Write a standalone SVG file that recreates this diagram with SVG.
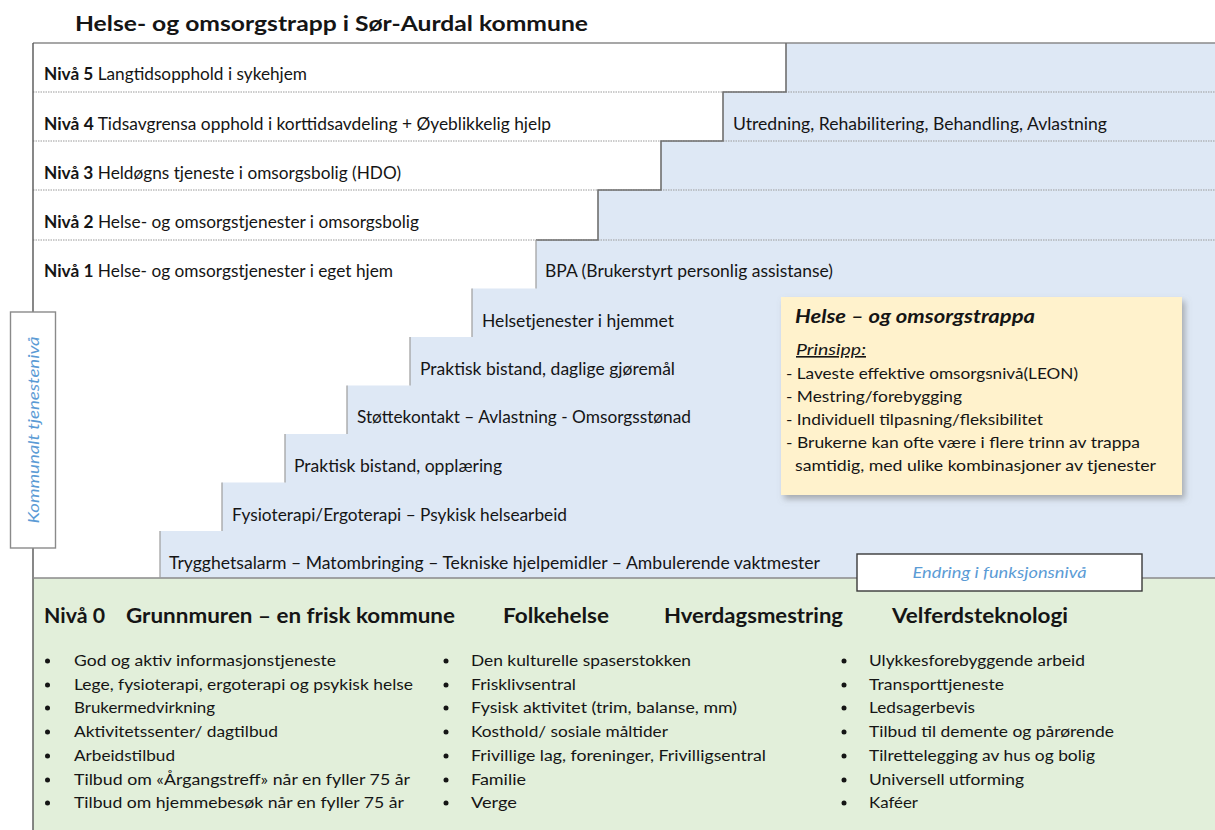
<svg xmlns="http://www.w3.org/2000/svg" width="1215" height="830" viewBox="0 0 1215 830">
<style>
text{font-family:Lato,"Open Sans","Liberation Sans",sans-serif;fill:#151515}
.t{font-size:16.5px}
.b{font-weight:bold}
.h{font-size:20px;font-weight:bold}
.li{font-size:16px}
.blue{fill:#5b9bd5;font-style:italic}
.dot{stroke:#9a9a9a;stroke-width:1;stroke-dasharray:1.5,1}
.edge{fill:none;stroke:#6f6f6f;stroke-width:1.6}
.riser{stroke:#9c9c9c;stroke-width:1.2}
.bul{fill:#151515}
</style>
<defs>
<filter id="sh" x="-5%" y="-5%" width="115%" height="120%">
<feDropShadow dx="3" dy="4" stdDeviation="3" flood-color="#777" flood-opacity="0.55"/>
</filter>
</defs>
<rect width="1215" height="830" fill="#ffffff"/>
<g id="title"><text x="75" y="31" style="font-size:21.5px;font-weight:bold" textLength="513" lengthAdjust="spacingAndGlyphs">Helse- og omsorgstrapp i Sør-Aurdal kommune</text></g>

<g id="backgrounds">
<polygon fill="#dee8f5" points="786,43 1215,43 1215,578 160,578 160,531 222,531 222,482.5 285,482.5 285,434 347,434 347,385.5 410,385.5 410,337 472,337 472,288.5 536,288.5 536,240 598,240 598,190 661,190 661,141 723,141 723,92 786,92"/>
<rect x="33" y="578" width="1182" height="252" fill="#e2efda"/>
</g>

<g id="connectors">
<line class="dot" x1="33" y1="92" x2="1215" y2="92"/>
<line class="dot" x1="33" y1="141" x2="1215" y2="141"/>
<line class="dot" x1="33" y1="190" x2="1215" y2="190"/>
<line class="dot" x1="33" y1="240" x2="1215" y2="240"/>
<line x1="33" y1="43" x2="1215" y2="43" stroke="#8a8a8a" stroke-width="1.6"/>
<line x1="33" y1="43" x2="33" y2="830" stroke="#555" stroke-width="1.4"/>
<line x1="33" y1="578" x2="1215" y2="578" stroke="#8a8a8a" stroke-width="1.6"/>
<path class="edge" d="M786,43 V92 H723 V141 H661 V190 H598 V240 H536"/>
<line class="riser" x1="536" y1="240" x2="536" y2="288.5"/>
<line class="riser" x1="472" y1="288.5" x2="472" y2="337"/>
<line class="riser" x1="410" y1="337" x2="410" y2="385.5"/>
<line class="riser" x1="347" y1="385.5" x2="347" y2="434"/>
<line class="riser" x1="285" y1="434" x2="285" y2="482.5"/>
<line class="riser" x1="222" y1="482.5" x2="222" y2="531"/>
<line class="riser" x1="160" y1="531" x2="160" y2="578"/>
</g>

<g id="niva5"><text class="t" x="44" y="80" textLength="263" lengthAdjust="spacingAndGlyphs"><tspan class="b">Nivå 5</tspan> Langtidsopphold i sykehjem</text></g>
<g id="niva4"><text class="t" x="44" y="130" textLength="507" lengthAdjust="spacingAndGlyphs"><tspan class="b">Nivå 4</tspan> Tidsavgrensa opphold i korttidsavdeling + Øyeblikkelig hjelp</text></g>
<g id="utredning"><text class="t" x="733" y="130" textLength="374" lengthAdjust="spacingAndGlyphs">Utredning, Rehabilitering, Behandling, Avlastning</text></g>
<g id="niva3"><text class="t" x="44" y="179" textLength="357" lengthAdjust="spacingAndGlyphs"><tspan class="b">Nivå 3</tspan> Heldøgns tjeneste i omsorgsbolig (HDO)</text></g>
<g id="niva2"><text class="t" x="44" y="228" textLength="375" lengthAdjust="spacingAndGlyphs"><tspan class="b">Nivå 2</tspan> Helse- og omsorgstjenester i omsorgsbolig</text></g>
<g id="niva1"><text class="t" x="44" y="277" textLength="349" lengthAdjust="spacingAndGlyphs"><tspan class="b">Nivå 1</tspan> Helse- og omsorgstjenester i eget hjem</text></g>
<g id="bpa"><text class="t" x="545" y="277" textLength="288" lengthAdjust="spacingAndGlyphs">BPA (Brukerstyrt personlig assistanse)</text></g>
<g id="step-helsetjenester"><text class="t" x="482" y="327" textLength="192" lengthAdjust="spacingAndGlyphs">Helsetjenester i hjemmet</text></g>
<g id="step-praktisk-daglige"><text class="t" x="420" y="375" textLength="255" lengthAdjust="spacingAndGlyphs">Praktisk bistand, daglige gjøremål</text></g>
<g id="step-stottekontakt"><text class="t" x="357" y="423" textLength="334" lengthAdjust="spacingAndGlyphs">Støttekontakt – Avlastning - Omsorgsstønad</text></g>
<g id="step-praktisk-opplaering"><text class="t" x="294" y="472" textLength="208" lengthAdjust="spacingAndGlyphs">Praktisk bistand, opplæring</text></g>
<g id="step-fysioterapi"><text class="t" x="232" y="521" textLength="335" lengthAdjust="spacingAndGlyphs">Fysioterapi/Ergoterapi – Psykisk helsearbeid</text></g>
<g id="step-trygghetsalarm"><text class="t" x="169" y="569" textLength="651" lengthAdjust="spacingAndGlyphs">Trygghetsalarm – Matombringing – Tekniske hjelpemidler – Ambulerende vaktmester</text></g>

<g id="kommunalt">
<rect x="10.5" y="312" width="45" height="236" fill="#ffffff" stroke="#8a8a8a" stroke-width="1.4"/>
<text class="blue" transform="translate(38.5,430) rotate(-90)" x="0" y="0" text-anchor="middle" style="font-size:15.5px" textLength="187" lengthAdjust="spacingAndGlyphs">Kommunalt tjenestenivå</text>
</g>

<g id="prinsipp-box">
<rect x="781" y="297" width="401" height="198" fill="#fff2cc" filter="url(#sh)"/>
<text x="795" y="323" style="font-size:19px;font-weight:bold;font-style:italic" textLength="240" lengthAdjust="spacingAndGlyphs">Helse – og omsorgstrappa</text>
<text x="796" y="355" style="font-size:16px;font-style:italic;text-decoration:underline" textLength="70" lengthAdjust="spacingAndGlyphs">Prinsipp:</text>
<text class="li" x="786" y="379" textLength="292" lengthAdjust="spacingAndGlyphs">- Laveste effektive omsorgsnivå(LEON)</text>
<text class="li" x="786" y="402" textLength="176" lengthAdjust="spacingAndGlyphs">- Mestring/forebygging</text>
<text class="li" x="786" y="425" textLength="257" lengthAdjust="spacingAndGlyphs">- Individuell tilpasning/fleksibilitet</text>
<text class="li" x="786" y="448" textLength="354" lengthAdjust="spacingAndGlyphs">- Brukerne kan ofte være i flere trinn av trappa</text>
<text class="li" x="795" y="471" textLength="361" lengthAdjust="spacingAndGlyphs">samtidig, med ulike kombinasjoner av tjenester</text>
</g>

<g id="endring">
<rect x="857" y="554" width="285" height="37" fill="#ffffff" stroke="#3a3a3a" stroke-width="1.4"/>
<text class="blue" x="999.5" y="578" text-anchor="middle" style="font-size:16px" textLength="174" lengthAdjust="spacingAndGlyphs">Endring i funksjonsnivå</text>
</g>

<g id="niva0-headings">
<text class="h" x="44" y="623" textLength="61" lengthAdjust="spacingAndGlyphs">Nivå 0</text>
<text class="h" x="126" y="623" textLength="329" lengthAdjust="spacingAndGlyphs">Grunnmuren – en frisk kommune</text>
<text class="h" x="503" y="623" textLength="106" lengthAdjust="spacingAndGlyphs">Folkehelse</text>
<text class="h" x="664" y="623" textLength="179" lengthAdjust="spacingAndGlyphs">Hverdagsmestring</text>
<text class="h" x="892" y="623" textLength="176" lengthAdjust="spacingAndGlyphs">Velferdsteknologi</text>
</g>

<g id="list-grunnmuren">
<circle class="bul" cx="47.5" cy="661" r="2.5"/><text class="li" x="74" y="666" textLength="262" lengthAdjust="spacingAndGlyphs">God og aktiv informasjonstjeneste</text>
<circle class="bul" cx="47.5" cy="685" r="2.5"/><text class="li" x="74" y="690" textLength="339" lengthAdjust="spacingAndGlyphs">Lege, fysioterapi, ergoterapi og psykisk helse</text>
<circle class="bul" cx="47.5" cy="708" r="2.5"/><text class="li" x="74" y="713" textLength="141" lengthAdjust="spacingAndGlyphs">Brukermedvirkning</text>
<circle class="bul" cx="47.5" cy="732" r="2.5"/><text class="li" x="74" y="737" textLength="204" lengthAdjust="spacingAndGlyphs">Aktivitetssenter/ dagtilbud</text>
<circle class="bul" cx="47.5" cy="756" r="2.5"/><text class="li" x="74" y="761" textLength="101" lengthAdjust="spacingAndGlyphs">Arbeidstilbud</text>
<circle class="bul" cx="47.5" cy="780" r="2.5"/><text class="li" x="74" y="785" textLength="336" lengthAdjust="spacingAndGlyphs">Tilbud om «Årgangstreff» når en fyller 75 år</text>
<circle class="bul" cx="47.5" cy="803" r="2.5"/><text class="li" x="74" y="808" textLength="330" lengthAdjust="spacingAndGlyphs">Tilbud om hjemmebesøk når en fyller 75 år</text>
</g>

<g id="list-folkehelse">
<circle class="bul" cx="446" cy="661" r="2.5"/><text class="li" x="471" y="666" textLength="220" lengthAdjust="spacingAndGlyphs">Den kulturelle spaserstokken</text>
<circle class="bul" cx="446" cy="685" r="2.5"/><text class="li" x="471" y="690" textLength="105" lengthAdjust="spacingAndGlyphs">Frisklivsentral</text>
<circle class="bul" cx="446" cy="708" r="2.5"/><text class="li" x="471" y="713" textLength="266" lengthAdjust="spacingAndGlyphs">Fysisk aktivitet (trim, balanse, mm)</text>
<circle class="bul" cx="446" cy="732" r="2.5"/><text class="li" x="471" y="737" textLength="197" lengthAdjust="spacingAndGlyphs">Kosthold/ sosiale måltider</text>
<circle class="bul" cx="446" cy="756" r="2.5"/><text class="li" x="471" y="761" textLength="295" lengthAdjust="spacingAndGlyphs">Frivillige lag, foreninger, Frivilligsentral</text>
<circle class="bul" cx="446" cy="780" r="2.5"/><text class="li" x="471" y="785" textLength="55" lengthAdjust="spacingAndGlyphs">Familie</text>
<circle class="bul" cx="446" cy="803" r="2.5"/><text class="li" x="471" y="808" textLength="46" lengthAdjust="spacingAndGlyphs">Verge</text>
</g>

<g id="list-velferd">
<circle class="bul" cx="844" cy="661" r="2.5"/><text class="li" x="869" y="666" textLength="216" lengthAdjust="spacingAndGlyphs">Ulykkesforebyggende arbeid</text>
<circle class="bul" cx="844" cy="685" r="2.5"/><text class="li" x="869" y="690" textLength="135" lengthAdjust="spacingAndGlyphs">Transporttjeneste</text>
<circle class="bul" cx="844" cy="708" r="2.5"/><text class="li" x="869" y="713" textLength="106" lengthAdjust="spacingAndGlyphs">Ledsagerbevis</text>
<circle class="bul" cx="844" cy="732" r="2.5"/><text class="li" x="869" y="737" textLength="245" lengthAdjust="spacingAndGlyphs">Tilbud til demente og pårørende</text>
<circle class="bul" cx="844" cy="756" r="2.5"/><text class="li" x="869" y="761" textLength="226" lengthAdjust="spacingAndGlyphs">Tilrettelegging av hus og bolig</text>
<circle class="bul" cx="844" cy="780" r="2.5"/><text class="li" x="869" y="785" textLength="155" lengthAdjust="spacingAndGlyphs">Universell utforming</text>
<circle class="bul" cx="844" cy="803" r="2.5"/><text class="li" x="869" y="808" textLength="49" lengthAdjust="spacingAndGlyphs">Kaféer</text>
</g>
</svg>
